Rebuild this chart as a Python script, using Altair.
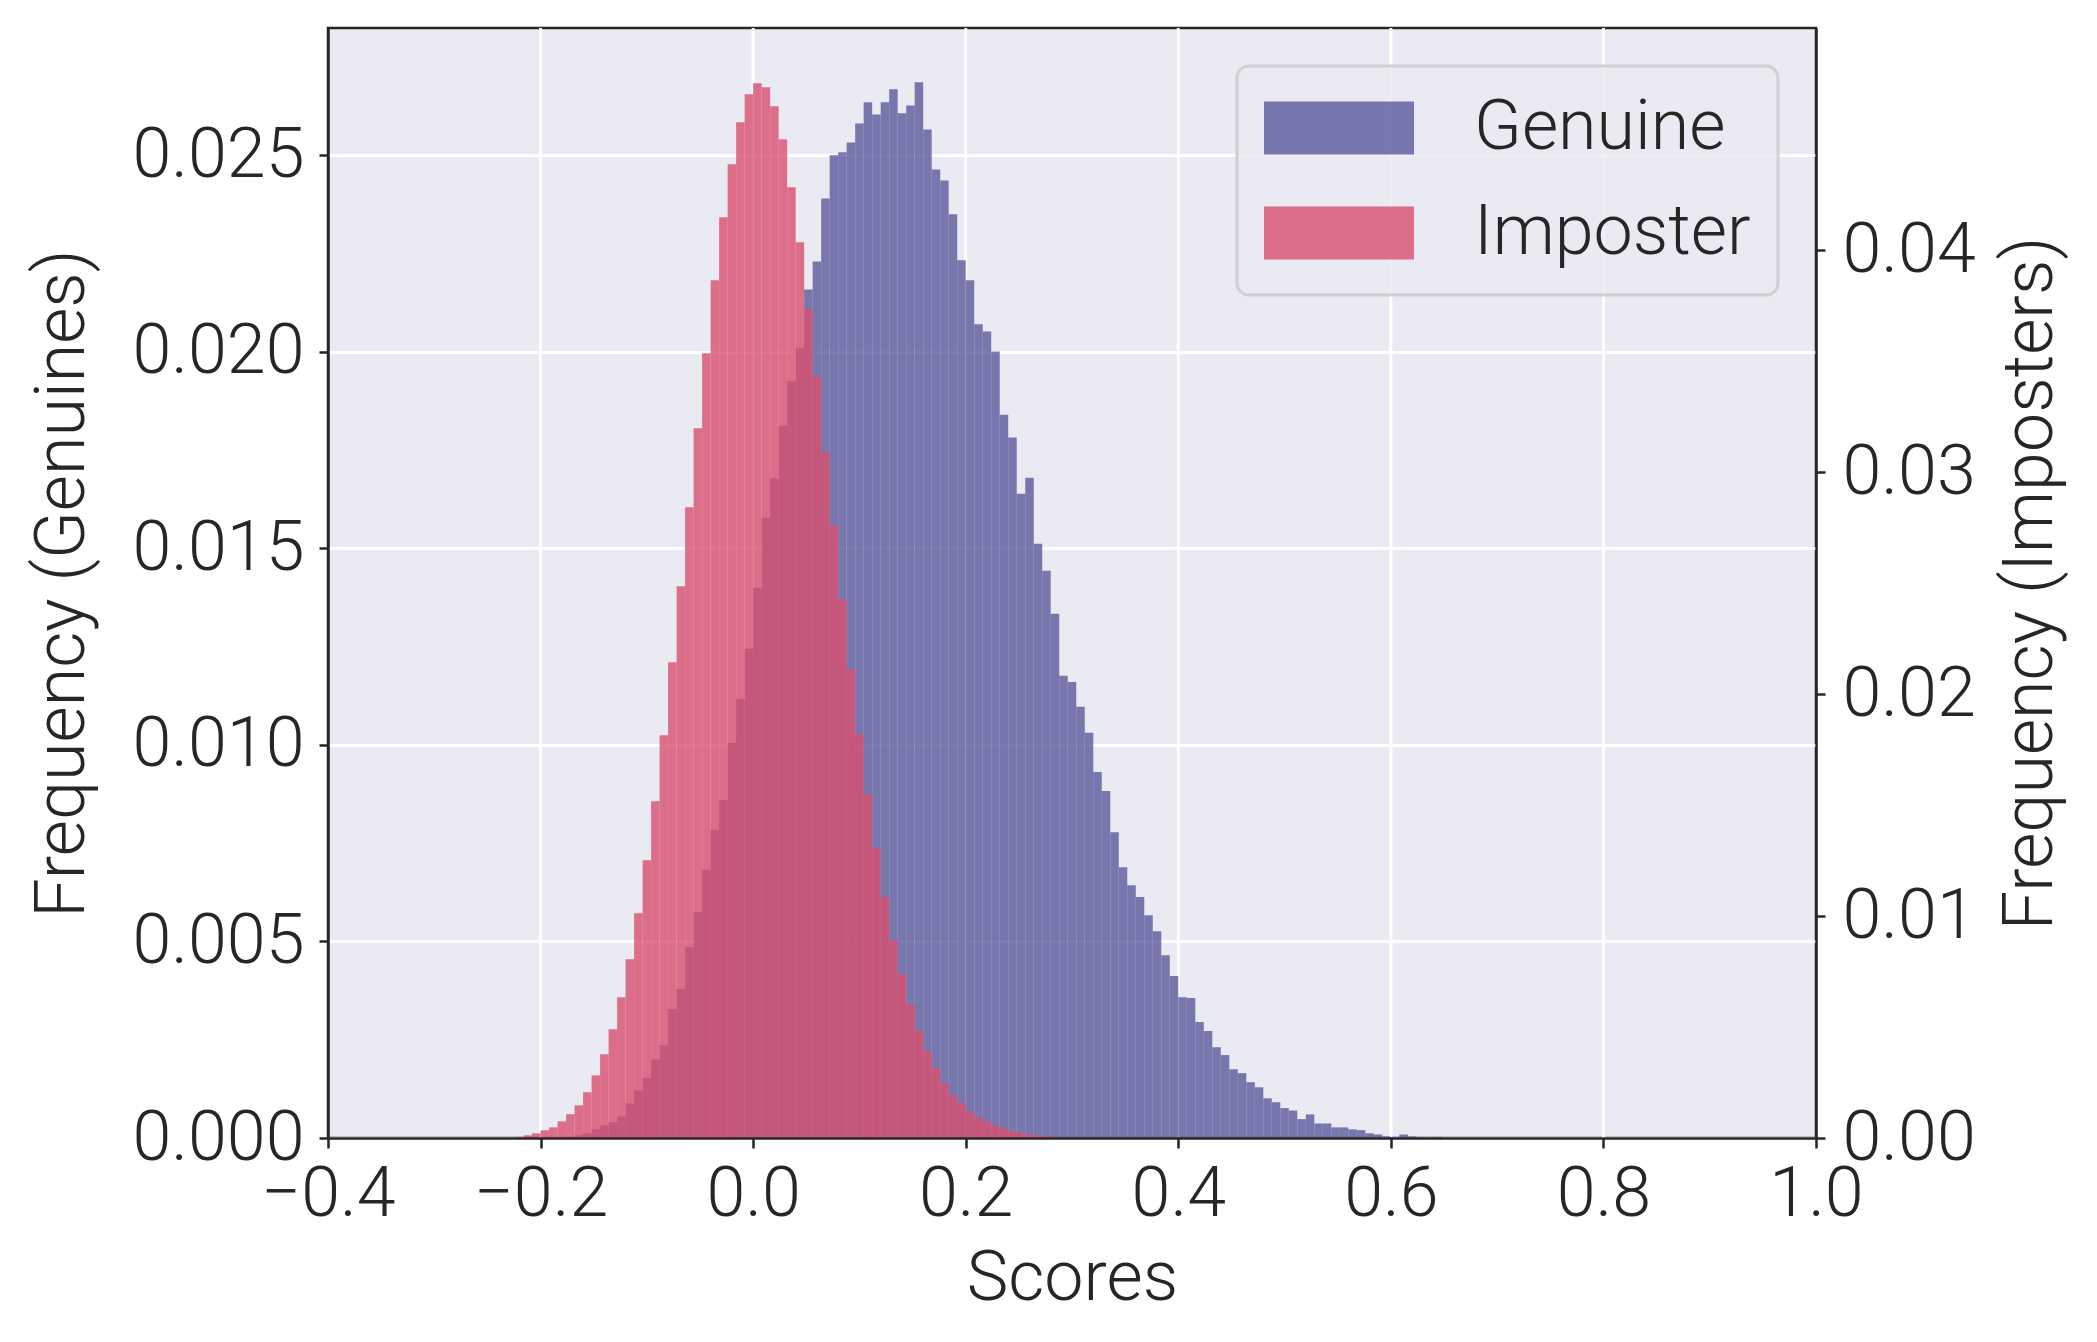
import altair as alt
import pandas as pd

# ---------------- data ----------------
BIN_WIDTH = 0.008
SERIES = ["Genuine", "Imposter"]
COLORS = ["#5A5A9C", "#DA4F6E"]

# Genuine histogram (left axis), first bin starts at index -22 (x = -0.176)
GEN_FIRST_BIN = -22
GEN_VALUES = [
    0.00002, 0.00007, 0.00012, 0.00022, 0.00032, 0.00040, 0.00055, 0.00088,
    0.00121, 0.00152, 0.00200, 0.00236, 0.00328, 0.00379, 0.00486, 0.00575,
    0.00682, 0.00784, 0.00860, 0.01005, 0.01117, 0.01245, 0.01400, 0.01578,
    0.01678, 0.01813, 0.01925, 0.02009, 0.02159, 0.02230, 0.02390, 0.02500,
    0.02508, 0.02533, 0.02581, 0.02635, 0.02604, 0.02635, 0.02668, 0.02607,
    0.02627, 0.02686, 0.02566, 0.02464, 0.02436, 0.02350, 0.02233, 0.02182,
    0.02070, 0.02052, 0.02001, 0.01840, 0.01782, 0.01639, 0.01680, 0.01512,
    0.01443, 0.01334, 0.01176, 0.01160, 0.01097, 0.01031, 0.00931, 0.00883,
    0.00778, 0.00689, 0.00643, 0.00613, 0.00567, 0.00526, 0.00465, 0.00412,
    0.00358, 0.00356, 0.00295, 0.00272, 0.00231, 0.00211, 0.00175, 0.00165,
    0.00142, 0.00129, 0.00101, 0.00091, 0.00076, 0.00070, 0.00048, 0.00060,
    0.00037, 0.00037, 0.00027, 0.00027, 0.00022, 0.00020, 0.00012, 0.00009,
    0.00004, 0.00002, 0.00009, 0.00004, 0.00002, 0.00001, 0.00002,
]

# Imposter histogram (right axis), first bin starts at index -28 (x = -0.224)
IMP_FIRST_BIN = -28
IMP_VALUES = [
    0.00003, 0.00012, 0.00021, 0.00035, 0.00048, 0.00075, 0.00107, 0.00147,
    0.00206, 0.00282, 0.00377, 0.00490, 0.00634, 0.00805, 0.01012, 0.01251,
    0.01517, 0.01814, 0.02143, 0.02485, 0.02841, 0.03197, 0.03535, 0.03864,
    0.04148, 0.04386, 0.04576, 0.04702, 0.04751, 0.04733, 0.04648, 0.04499,
    0.04283, 0.04035, 0.03733, 0.03431, 0.03089, 0.02760, 0.02427, 0.02112,
    0.01819, 0.01549, 0.01305, 0.01084, 0.00890, 0.00737, 0.00602, 0.00485,
    0.00390, 0.00314, 0.00246, 0.00195, 0.00157, 0.00120, 0.00093, 0.00075,
    0.00057, 0.00042, 0.00030, 0.00024, 0.00015, 0.00012, 0.00008, 0.00005,
    0.00003, 0.00002, 0.00002, 0.00001, 0.00001,
]

X_DOMAIN = [-0.4, 1.0]
X_TICKS = [-0.4, -0.2, 0.0, 0.2, 0.4, 0.6, 0.8, 1.0]
X_GRID = [-0.2, 0.0, 0.2, 0.4, 0.6, 0.8]
Y_LEFT_DOMAIN = [0, 0.02824]
Y_LEFT_TICKS = [0.0, 0.005, 0.010, 0.015, 0.020, 0.025]
Y_RIGHT_DOMAIN = [0, 0.05]
Y_RIGHT_TICKS = [0.0, 0.01, 0.02, 0.03, 0.04]


def hist_frame(first_bin, values, name):
    starts = [round((first_bin + i) * BIN_WIDTH, 4) for i in range(len(values))]
    return pd.DataFrame({
        "start": starts,
        "end": [round(s + BIN_WIDTH, 4) for s in starts],
        "value": values,
        "series": name,
    })


gen_df = hist_frame(GEN_FIRST_BIN, GEN_VALUES, SERIES[0])
imp_df = hist_frame(IMP_FIRST_BIN, IMP_VALUES, SERIES[1])
grid_df = pd.DataFrame({"start": X_GRID})

FONT = "Roboto"
INK = "#262626"
LEGEND_SYMBOL = "M-1,-0.757H3.286V0.757H-1Z"

color = alt.Color(
    "series:N",
    scale=alt.Scale(domain=SERIES, range=COLORS),
    legend=alt.Legend(
        title=None,
        orient="none",
        legendX=909,
        legendY=38,
        symbolType=LEGEND_SYMBOL,
        symbolSize=4900,
        symbolOpacity=0.8,
        symbolStrokeWidth=0,
        labelOffset=140,
        labelLimit=500,
        rowPadding=35,
        padding=27,
        cornerRadius=12,
        fillColor="rgba(234,234,242,0.8)",
        strokeColor="#d0d0d0",
    ),
)


def x_enc():
    return alt.X(
        "start:Q",
        scale=alt.Scale(domain=X_DOMAIN, nice=False, zero=False),
        axis=alt.Axis(
            values=X_TICKS, format=".1f", title="Scores", grid=False,
            labelFlush=False, labelPadding=12, tickSize=10, titlePadding=15,
            domain=True, domainColor=INK, domainWidth=2.5, zindex=1,
        ),
    )


# vertical grid lines (behind the bars)
grid = alt.Chart(grid_df).mark_rule(color="white", strokeWidth=3).encode(
    x=x_enc()
)

gen = alt.Chart(gen_df).mark_rect(opacity=0.8, strokeWidth=0).encode(
    x=x_enc(),
    x2="end:Q",
    y=alt.Y(
        "value:Q",
        scale=alt.Scale(domain=Y_LEFT_DOMAIN, nice=False),
        axis=alt.Axis(
            orient="left", values=Y_LEFT_TICKS, format=".3f",
            title="Frequency (Genuines)", grid=True,
            labelPadding=15, titlePadding=33,
            domain=True, domainColor=INK, domainWidth=2.5,
        ),
    ),
    y2=alt.datum(0),
    color=color,
)

imp = alt.Chart(imp_df).mark_rect(opacity=0.8, strokeWidth=0).encode(
    x=x_enc(),
    x2="end:Q",
    y=alt.Y(
        "value:Q",
        scale=alt.Scale(domain=Y_RIGHT_DOMAIN, nice=False),
        axis=alt.Axis(
            orient="right", values=Y_RIGHT_TICKS, format=".2f",
            title="Frequency (Imposters)", grid=False,
            labelPadding=17, titleAngle=270, titleBaseline="top",
            titlePadding=21,
            domain=True, domainColor=INK, domainWidth=2.5,
        ),
    ),
    y2=alt.datum(0),
    color=color,
)

chart = (
    alt.layer(grid, gen, imp)
    .resolve_scale(y="independent")
    .properties(
        width=1488,
        height=1110,
        padding={"left": 320, "top": 20, "right": 260, "bottom": 190},
        autosize=alt.AutoSizeParams(type="none"),
        background="white",
    )
    .configure_view(fill="#EAEAF2", stroke=INK, strokeWidth=2.5)
    .configure_axis(
        labelFont=FONT, labelFontSize=70, labelFontWeight=300, labelColor=INK,
        titleFont=FONT, titleFontSize=70, titleFontWeight=300, titleColor=INK,
        tickColor=INK, tickWidth=2.5, tickSize=9,
        gridColor="white", gridWidth=3, gridOpacity=1, labelOverlap=False,
    )
    .configure_legend(
        labelFont=FONT, labelFontSize=70, labelFontWeight=300, labelColor=INK,
        strokeWidth=3,
    )
)

chart.save("out.html", embed_options={"renderer": "svg", "actions": False})
